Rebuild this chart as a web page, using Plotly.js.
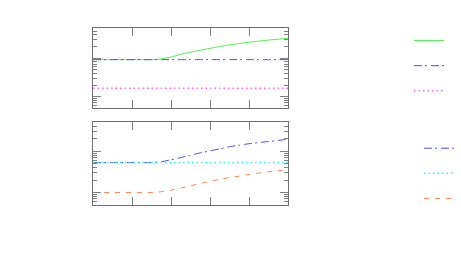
<!DOCTYPE html>
<html>
<head>
<meta charset="utf-8">
<script src="https://cdn.plot.ly/plotly-3.0.1.min.js"></script>
<style>html,body{margin:0;padding:0;background:#fff;}#chart{width:461px;height:271px;}</style>
</head>
<body>
<div id="chart"></div>
<script>
// x positions
const xs = [0, 0.5, 1.0, 1.5, 1.75, 2.0, 2.25, 2.5, 2.75, 3.0, 3.25, 3.5, 3.75, 4.0, 4.25, 4.5, 4.75, 5.0];
// top panel series
const greenTop = [0.91, 0.91, 0.91, 0.91, 0.95, 1.06, 1.25, 1.42, 1.59, 1.79, 1.99, 2.19, 2.38, 2.58, 2.75, 2.92, 3.08, 3.27];
const blueTop  = [0.91, 0.91, 0.91, 0.91, 0.91, 0.91, 0.91, 0.91, 0.91, 0.91, 0.91, 0.91, 0.91, 0.91, 0.91, 0.91, 0.91, 0.91];
const pinkTop  = [0.165, 0.165, 0.165, 0.165, 0.165, 0.165, 0.165, 0.165, 0.165, 0.165, 0.165, 0.165, 0.165, 0.165, 0.165, 0.165, 0.165, 0.165];
// bottom panel series
const blueBot  = [0.53, 0.53, 0.53, 0.53, 0.56, 0.62, 0.70, 0.80, 0.91, 1.02, 1.14, 1.29, 1.40, 1.52, 1.62, 1.72, 1.82, 1.95];
const cyanBot  = [0.53, 0.53, 0.53, 0.53, 0.53, 0.53, 0.53, 0.53, 0.53, 0.53, 0.53, 0.53, 0.53, 0.53, 0.53, 0.53, 0.53, 0.53];
const orangeBot= [0.10, 0.10, 0.10, 0.10, 0.105, 0.114, 0.128, 0.146, 0.165, 0.187, 0.21, 0.23, 0.25, 0.275, 0.295, 0.318, 0.338, 0.36];

const xRange = [0, 5];
const yRangeTop = [0.05, 6];
const yRangeBot = [0.05, 5];

const C_GREEN = '#4cf04c', C_BLUE = '#4a4af5', C_PINK = '#ff66ff', C_CYAN = '#22f5f5', C_ORANGE = '#ff7f50';
const DASHDOT = '8px,3px,2px,4px';

function tr(y, xa, ya, color, dash, width, leg) {
  return {x: xs, y: y, xaxis: xa, yaxis: ya, type: 'scatter', mode: 'lines', name: ' ',
    line: {color: color, dash: dash, width: width, shape: 'spline', smoothing: 0.6}, legend: leg,
    hoverinfo: 'skip'};
}

const data = [
  tr(greenTop, 'x', 'y', C_GREEN, 'solid', 1, 'legend'),
  tr(blueTop, 'x', 'y', C_BLUE, DASHDOT, 1, 'legend'),
  tr(pinkTop, 'x', 'y', C_PINK, '1.5px,3px', 1.5, 'legend'),
  tr(blueBot, 'x2', 'y2', C_BLUE, DASHDOT, 1, 'legend2'),
  tr(cyanBot, 'x2', 'y2', C_CYAN, '1.5px,3px', 1.5, 'legend2'),
  tr(orangeBot, 'x2', 'y2', C_ORANGE, '5px,6px', 1, 'legend2')
];

const axCommon = {showline: true, linecolor: '#6e6e6e', linewidth: 1, mirror: 'ticks', ticks: 'inside',
  tickcolor: '#808080', tickwidth: 1, showgrid: false, zeroline: false, showticklabels: false};

function xax(anchor) {
  return Object.assign({}, axCommon, {range: xRange, tickmode: 'linear', tick0: 0, dtick: 1, ticklen: 8, anchor: anchor});
}
function yax(range, domain, anchor) {
  return Object.assign({}, axCommon, {type: 'log', range: [Math.log10(range[0]), Math.log10(range[1])],
    tickmode: 'linear', tick0: 0, dtick: 1, ticklen: 8, domain: domain, anchor: anchor,
    minor: {ticks: 'inside', ticklen: 4, dtick: 'D1', tickcolor: '#808080', tickwidth: 1, showgrid: false}});
}

const layout = {
  width: 461, height: 271,
  margin: {l: 93, r: 173, t: 28, b: 66, pad: 0, autoexpand: false},
  paper_bgcolor: '#ffffff', plot_bgcolor: '#ffffff',
  showlegend: true,
  xaxis: xax('y'),
  yaxis: yax(yRangeTop, [0.5463, 1], 'x'),
  xaxis2: xax('y2'),
  yaxis2: yax(yRangeBot, [0, 0.467], 'x2'),
  legend: {x: 1.6205, xanchor: 'left', y: 1.028, yanchor: 'top', bgcolor: 'rgba(0,0,0,0)',
    borderwidth: 0, font: {size: 17, family: 'DejaVu Sans', color: '#ffffff'}, itemwidth: 30, tracegroupgap: 0},
  legend2: {x: 1.672, xanchor: 'left', y: 0.42, yanchor: 'top', bgcolor: 'rgba(0,0,0,0)',
    borderwidth: 0, font: {size: 17, family: 'DejaVu Sans', color: '#ffffff'}, itemwidth: 30, tracegroupgap: 0}
};

Plotly.newPlot('chart', data, layout, {displayModeBar: false, staticPlot: true});
</script>
</body>
</html>
